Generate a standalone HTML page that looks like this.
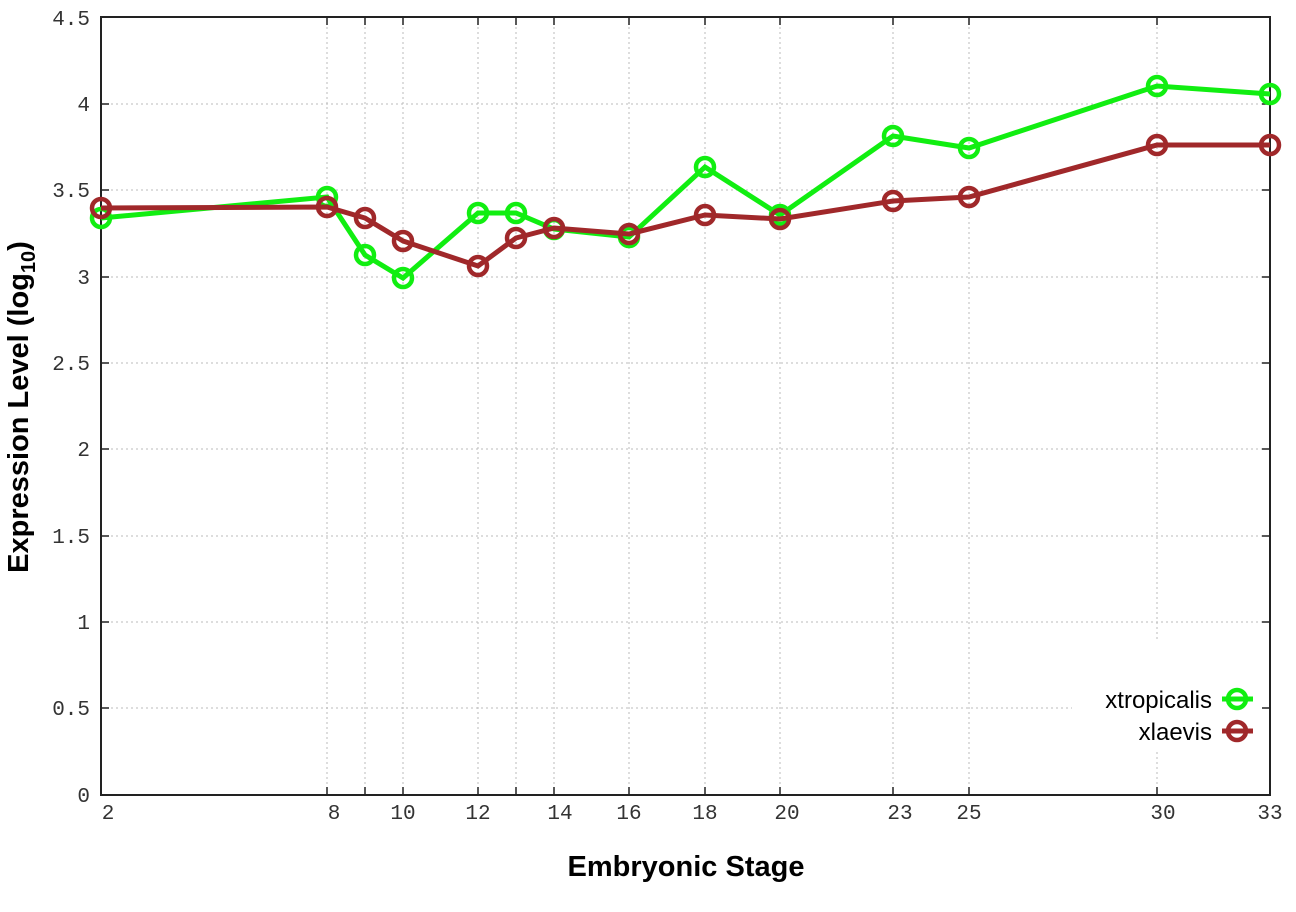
<!DOCTYPE html>
<html><head><style>body{margin:0;background:#fff}</style></head><body>
<svg width="1296" height="907" xmlns="http://www.w3.org/2000/svg">
<g stroke="#bbb" stroke-width="1" stroke-dasharray="2,3">
<line x1="101" x2="1270" y1="104" y2="104"/><line x1="101" x2="1270" y1="190" y2="190"/><line x1="101" x2="1270" y1="277" y2="277"/><line x1="101" x2="1270" y1="363" y2="363"/><line x1="101" x2="1270" y1="449" y2="449"/><line x1="101" x2="1270" y1="536" y2="536"/><line x1="101" x2="1270" y1="622" y2="622"/><line x1="101" x2="1270" y1="708" y2="708"/>
<line x1="327" x2="327" y1="17" y2="795"/><line x1="365" x2="365" y1="17" y2="795"/><line x1="403" x2="403" y1="17" y2="795"/><line x1="478" x2="478" y1="17" y2="795"/><line x1="516" x2="516" y1="17" y2="795"/><line x1="554" x2="554" y1="17" y2="795"/><line x1="629" x2="629" y1="17" y2="795"/><line x1="705" x2="705" y1="17" y2="795"/><line x1="780" x2="780" y1="17" y2="795"/><line x1="893" x2="893" y1="17" y2="795"/><line x1="969" x2="969" y1="17" y2="795"/><line x1="1157" x2="1157" y1="17" y2="795"/>
</g>
<rect x="1072" y="642" width="196" height="110" fill="#fff"/>
<rect x="101" y="17" width="1169" height="778" fill="none" stroke="#222" stroke-width="2"/>
<g stroke="#222" stroke-width="1.5">
<path d="M101 104h8M101 190h8M101 277h8M101 363h8M101 449h8M101 536h8M101 622h8M101 708h8M1270 104h-8M1270 190h-8M1270 277h-8M1270 363h-8M1270 449h-8M1270 536h-8M1270 622h-8M1270 708h-8"/>
<path d="M327 795v-8M365 795v-8M403 795v-8M478 795v-8M516 795v-8M554 795v-8M629 795v-8M705 795v-8M780 795v-8M893 795v-8M969 795v-8M1157 795v-8M327 17v8M365 17v8M403 17v8M478 17v8M516 17v8M554 17v8M629 17v8M705 17v8M780 17v8M893 17v8M969 17v8M1157 17v8"/>
</g>
<g font-family="Liberation Mono, monospace" font-size="21" fill="#333" text-anchor="end">
<text x="90" y="25">4.5</text><text x="90" y="111">4</text><text x="90" y="197">3.5</text><text x="90" y="284">3</text><text x="90" y="370">2.5</text><text x="90" y="456">2</text><text x="90" y="543">1.5</text><text x="90" y="629">1</text><text x="90" y="715">0.5</text><text x="90" y="802">0</text>
</g>
<g font-family="Liberation Mono, monospace" font-size="21" fill="#333" text-anchor="middle">
<text x="108" y="819">2</text><text x="334" y="819">8</text><text x="403" y="819">10</text><text x="478" y="819">12</text><text x="560" y="819">14</text><text x="629" y="819">16</text><text x="705" y="819">18</text><text x="787" y="819">20</text><text x="900" y="819">23</text><text x="969" y="819">25</text><text x="1163" y="819">30</text><text x="1270" y="819">33</text>
</g>
<text x="686" y="876" font-family="Liberation Sans, sans-serif" font-weight="bold" font-size="29" text-anchor="middle">Embryonic Stage</text>
<text transform="translate(28,407) rotate(-90)" font-family="Liberation Sans, sans-serif" font-weight="bold" font-size="29" text-anchor="middle">Expression Level (log<tspan font-size="20" dy="7">10</tspan><tspan dy="-7">)</tspan></text>
<g fill="none" stroke="#11ee11" stroke-width="5">
<polyline points="101,218 327,197 365,255 403,278 478,213 516,213 554,229 629,237 705,167 780,215 893,136 969,148 1157,86 1270,94"/>
<g stroke-width="4.5"><circle cx="101" cy="218" r="9"/><circle cx="327" cy="197" r="9"/><circle cx="365" cy="255" r="9"/><circle cx="403" cy="278" r="9"/><circle cx="478" cy="213" r="9"/><circle cx="516" cy="213" r="9"/><circle cx="554" cy="229" r="9"/><circle cx="629" cy="237" r="9"/><circle cx="705" cy="167" r="9"/><circle cx="780" cy="215" r="9"/><circle cx="893" cy="136" r="9"/><circle cx="969" cy="148" r="9"/><circle cx="1157" cy="86" r="9"/><circle cx="1270" cy="94" r="9"/>
<circle cx="1237" cy="699" r="9"/></g>
<line x1="1222" x2="1253" y1="699" y2="699"/>
</g>
<g fill="none" stroke="#a0282a" stroke-width="5">
<polyline points="101,208 327,207 365,218 403,241 478,266 516,238 554,228 629,234 705,215 780,219 893,201 969,197 1157,145 1270,145"/>
<g stroke-width="4.5"><circle cx="101" cy="208" r="9"/><circle cx="327" cy="207" r="9"/><circle cx="365" cy="218" r="9"/><circle cx="403" cy="241" r="9"/><circle cx="478" cy="266" r="9"/><circle cx="516" cy="238" r="9"/><circle cx="554" cy="228" r="9"/><circle cx="629" cy="234" r="9"/><circle cx="705" cy="215" r="9"/><circle cx="780" cy="219" r="9"/><circle cx="893" cy="201" r="9"/><circle cx="969" cy="197" r="9"/><circle cx="1157" cy="145" r="9"/><circle cx="1270" cy="145" r="9"/>
<circle cx="1237" cy="731" r="9"/></g>
<line x1="1222" x2="1253" y1="731" y2="731"/>
</g>
<g font-family="Liberation Sans, sans-serif" font-size="24" text-anchor="end" fill="#000">
<text x="1212" y="708">xtropicalis</text><text x="1212" y="740">xlaevis</text>
</g>
</svg>
</body></html>
